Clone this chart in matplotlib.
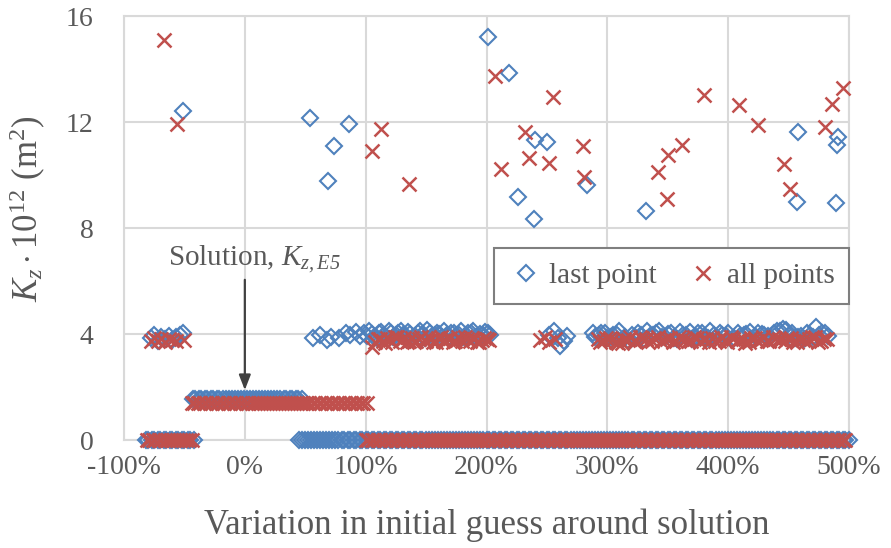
import matplotlib
matplotlib.use('Agg')
from matplotlib import pyplot as plt

plt.rcParams['font.family'] = ['Liberation Serif', 'DejaVu Serif']
plt.rcParams['mathtext.fontset'] = 'custom'
plt.rcParams['mathtext.rm'] = 'Liberation Serif'
plt.rcParams['mathtext.it'] = 'Liberation Serif:italic'
# 'cal' slot used for a fully italic subscript (digits included)
plt.rcParams['mathtext.cal'] = 'Liberation Serif:italic'

BLUE = '#4F81BD'
RED = '#C0504D'
GREY_TXT = '#595959'
GRID = '#D9D9D9'

# --- scattered high values (variation %, Kz*1e12) ---
high_last_x = [-51, 54, 86, 74, 69, 201, 219, 240, 250, 226, 239, 283, 332, 458, 457, 491, 490, 489]
high_last_y = [12.4, 12.14, 11.92, 11.1, 9.77, 15.2, 13.84, 11.32, 11.26, 9.16, 8.34, 9.62, 8.64,
               11.63, 8.97, 11.45, 11.13, 8.93]
high_all_x = [-67, -56, 113, 105, 136, 207, 212, 232, 235, 255, 252, 280, 281, 349, 342, 350, 362,
              380, 409, 425, 446, 451, 480, 486, 495]
high_all_y = [15.1, 11.92, 11.74, 10.92, 9.65, 13.74, 10.23, 11.63, 10.65, 12.96, 10.47, 11.1, 9.94,
              9.08, 10.13, 10.74, 11.13, 13.02, 12.64, 11.89, 10.4, 9.46, 11.82, 12.68, 13.3]

# --- band near 4 ---
band_last_x = [-78, -75, -72, -69, -66, -63, -60, -57, -54, -51,
               56, 62, 68, 71, 78, 84, 87, 92, 95, 99,
               103, 107, 111, 115, 119, 123, 127, 131, 135, 139,
               143, 147, 151, 155, 159, 163, 167, 171, 175, 179,
               183, 187, 191, 195, 199, 203,
               252, 256, 259, 261, 264, 267,
               288, 293, 298, 303, 308, 313, 318, 323, 328, 333,
               338, 343, 348, 353, 358, 363, 368, 373, 378, 383,
               388, 393, 398, 403, 408, 413, 418, 423, 428, 433,
               438, 443, 448, 453, 458, 463, 468, 473, 478, 483]
band_last_y = [3.85, 3.95, 3.75, 3.9, 3.8, 3.92, 3.78, 3.88, 3.95, 4.02,
               3.85, 3.95, 3.78, 3.9, 3.85, 4.02, 3.95, 4.08, 3.92, 4.05,
               4.1, 3.9, 4.05, 3.95, 4.12, 3.88, 4.02, 3.95, 4.08, 3.9,
               4.05, 3.98, 4.15, 3.92, 4.02, 3.88, 3.98, 4.05, 3.92, 4.1,
               3.95, 4.05, 3.88, 4.0, 4.08, 3.95,
               3.95, 4.1, 3.85, 3.55, 3.72, 3.92,
               4.02, 3.95, 4.05, 3.9, 3.98, 3.82, 3.75, 3.9, 3.95, 4.1,
               3.98, 4.12, 3.88, 4.05, 3.8, 3.95, 4.08, 3.9, 4.02, 3.85,
               3.98, 4.05, 3.92, 3.78, 4.02, 3.95, 4.08, 3.88, 4.0, 3.92,
               4.05, 4.1, 4.15, 4.02, 3.9, 3.8, 3.95, 4.25, 4.05, 3.92]
band_last_x2 = [101, 105, 109, 113, 117, 121, 125, 129, 133, 137, 141, 145, 149,
                153, 157, 161, 165, 169, 173, 177, 181, 185, 189, 193, 197, 201,
                290, 295, 300, 305, 310, 315, 320, 325, 330, 335,
                340, 345, 350, 355, 360, 365, 370, 375, 380, 385,
                390, 395, 400, 405, 410, 415, 420, 425, 430, 435,
                440, 445, 450, 455, 460, 465, 470, 475, 480]
band_last_y2 = [3.92, 4.0, 3.85, 4.08, 3.9, 4.02, 3.95, 4.12, 3.88, 4.0, 3.92, 4.1, 3.85,
                4.05, 3.95, 4.0, 4.1, 3.9, 4.02, 3.95, 3.88, 4.05, 4.1, 3.92, 3.98, 4.05,
                3.9, 4.05, 3.85, 3.98, 4.1, 3.88, 3.95, 4.02, 3.8, 3.92,
                4.05, 3.9, 4.0, 3.85, 4.08, 3.95, 3.82, 4.02, 3.9, 4.1,
                3.88, 3.95, 4.05, 3.85, 3.92, 4.0, 3.8, 4.05, 3.95, 3.9,
                4.12, 4.18, 3.98, 3.85, 3.92, 4.02, 3.88, 3.95, 4.05]
band_all_x = [-78, -75, -72, -69, -66, -63, -60, -57, -50,
              105, 110, 114, 118, 122, 126, 130, 134, 138, 142,
              146, 150, 154, 158, 162, 166, 170, 174, 178, 182,
              186, 190, 194, 198, 202,
              244, 248, 252, 257,
              292, 297, 302, 307, 312, 317, 322, 327, 332, 337,
              342, 347, 352, 357, 362, 367, 372, 377, 382, 387,
              392, 397, 402, 407, 412, 417, 422, 427, 432, 437,
              442, 447, 452, 457, 462, 467, 472, 477, 482]
band_all_y = [3.72, 3.85, 3.75, 3.8, 3.7, 3.82, 3.78, 3.72, 3.78,
              3.52, 3.8, 3.72, 3.85, 3.7, 3.9, 3.78, 3.68, 3.85, 3.75,
              3.88, 3.72, 3.82, 3.7, 3.9, 3.78, 3.85, 3.72, 3.8, 3.88,
              3.75, 3.82, 3.7, 3.85, 3.78,
              3.78, 3.88, 3.7, 3.82,
              3.82, 3.75, 3.85, 3.7, 3.65, 3.78, 3.72, 3.88, 3.8, 3.75,
              3.9, 3.78, 3.85, 3.72, 3.82, 3.75, 3.88, 3.7, 3.8, 3.85,
              3.72, 3.78, 3.9, 3.75, 3.82, 3.7, 3.85, 3.78, 3.72, 3.88,
              3.8, 3.75, 3.85, 3.7, 3.78, 3.82, 3.88, 3.72, 3.8]
band_all_x2 = [108, 112, 116, 120, 124, 128, 132, 136, 140, 144, 148, 152,
               156, 160, 164, 168, 172, 176, 180, 184, 188, 192, 196, 200,
               294, 299, 304, 309, 314, 319, 324, 329, 334, 339,
               344, 349, 354, 359, 364, 369, 374, 379, 384, 389,
               394, 399, 404, 409, 414, 419, 424, 429, 434, 439,
               444, 449, 454, 459, 464, 469, 474, 479]
band_all_y2 = [3.7, 3.82, 3.65, 3.78, 3.88, 3.72, 3.85, 3.75, 3.68, 3.82, 3.78, 3.9,
               3.7, 3.85, 3.75, 3.8, 3.68, 3.88, 3.72, 3.8, 3.85, 3.7, 3.78, 3.82,
               3.7, 3.85, 3.78, 3.65, 3.82, 3.9, 3.72, 3.8, 3.68, 3.85,
               3.75, 3.82, 3.7, 3.88, 3.78, 3.72, 3.85, 3.8, 3.68, 3.75,
               3.88, 3.7, 3.82, 3.78, 3.65, 3.85, 3.75, 3.9, 3.72, 3.8,
               3.78, 3.85, 3.7, 3.82, 3.75, 3.88, 3.7, 3.8]

# --- solution band ---
sol_last_x = [-43, -41, -38, -36, -33, -31, -28, -26, -23, -21, -18, -16, -13, -11, -8, -6, -3, -1,
              2, 4, 7, 9, 12, 14, 17, 19, 22, 24, 27, 29, 32, 34, 37, 39, 42, 44, 47]
sol_last_level = 1.55
sol_all_x = [-44, -42, -39, -37, -34, -32, -29, -27, -24, -22, -19, -17, -14, -12, -9, -7, -4, -2,
             1, 3, 6, 8, 11, 13, 16, 18, 21, 23, 26, 28, 31, 33, 36, 38, 41, 43, 46, 48,
             51, 53, 56, 58, 61, 63, 66, 68, 71, 73, 76, 78, 81, 83, 86, 88, 91, 93, 96, 98, 101]
sol_all_level = 1.38

# --- zero band ---
zero_last_x = [-82, -80, -77, -75, -72, -70, -67, -65, -62, -60, -57, -55, -52, -50, -47, -45, -42,
               45, 47, 50, 52, 55, 57, 60, 62, 65, 67, 70, 72, 75, 77, 80, 82, 85, 87, 90, 92,
               95, 97, 100, 102, 105, 107, 110, 112, 115, 117, 120, 122, 125, 127, 130, 132, 135, 137, 140, 142,
               145, 147, 150, 152, 155, 157, 160, 162, 165, 167, 170, 172, 175, 177, 180, 182, 185, 187, 190, 192,
               195, 197, 200, 202, 205, 207, 210, 212, 215, 217, 220, 222, 225, 227, 230, 232, 235, 237, 240, 242,
               245, 247, 250, 252, 255, 257, 260, 262, 265, 267, 270, 272, 275, 277, 280, 282, 285, 287, 290, 292,
               295, 297, 300, 302, 305, 307, 310, 312, 315, 317, 320, 322, 325, 327, 330, 332, 335, 337, 340, 342,
               345, 347, 350, 352, 355, 357, 360, 362, 365, 367, 370, 372, 375, 377, 380, 382, 385, 387, 390, 392,
               395, 397, 400, 402, 405, 407, 410, 412, 415, 417, 420, 422, 425, 427, 430, 432, 435, 437, 440, 442,
               445, 447, 450, 452, 455, 457, 460, 462, 465, 467, 470, 472, 475, 477, 480, 482, 485, 487, 490, 492,
               495, 497, 500]
zero_all_x = [-81, -79, -76, -74, -71, -69, -66, -64, -61, -59, -56, -54, -51, -49, -46, -44,
              100, 102, 105, 107, 110, 112, 115, 117, 120, 122, 125, 127, 130, 132, 135, 137, 140, 142, 145, 147,
              150, 152, 155, 157, 160, 162, 165, 167, 170, 172, 175, 177, 180, 182, 185, 187, 190, 192, 195, 197,
              200, 202, 205, 207, 210, 212, 215, 217, 220, 222, 225, 227, 230, 232, 235, 237, 240, 242, 245, 247,
              250, 252, 255, 257, 260, 262, 265, 267, 270, 272, 275, 277, 280, 282, 285, 287, 290, 292, 295, 297,
              300, 302, 305, 307, 310, 312, 315, 317, 320, 322, 325, 327, 330, 332, 335, 337, 340, 342, 345, 347,
              350, 352, 355, 357, 360, 362, 365, 367, 370, 372, 375, 377, 380, 382, 385, 387, 390, 392, 395, 397,
              400, 402, 405, 407, 410, 412, 415, 417, 420, 422, 425, 427, 430, 432, 435, 437, 440, 442, 445, 447,
              450, 452, 455, 457, 460, 462, 465, 467, 470, 472, 475, 477, 480, 482, 485, 487, 490, 492, 495, 497]
zero_level = 0

x_ticks = [-100, 0, 100, 200, 300, 400, 500]
y_ticks = [0, 4, 8, 12, 16]

last_x = zero_last_x + sol_last_x + band_last_x + band_last_x2 + high_last_x
last_y = ([zero_level] * len(zero_last_x) + [sol_last_level] * len(sol_last_x)
          + band_last_y + band_last_y2 + high_last_y)
all_x = zero_all_x + sol_all_x + band_all_x + band_all_x2 + high_all_x
all_y = ([zero_level] * len(zero_all_x) + [sol_all_level] * len(sol_all_x)
         + band_all_y + band_all_y2 + high_all_y)

fig = plt.figure(figsize=(8.91, 5.48), dpi=100)
ax = fig.add_axes([124 / 891, 108 / 548, 725 / 891, 424 / 548])

ax.plot(last_x, last_y, linestyle='none', marker='D', markersize=8, markerfacecolor='none',
        markeredgecolor=BLUE, markeredgewidth=1.5, clip_on=False, zorder=3, label='last point')
ax.plot(all_x, all_y, linestyle='none', marker='x', markersize=10, markeredgecolor=RED,
        markeredgewidth=1.8, clip_on=False, zorder=4, label='all points')

ax.set_xlim(-100, 500)
ax.set_ylim(0, 16)
ax.set_xticks(x_ticks)
ax.set_xticklabels([f'{t}%' for t in x_ticks])
ax.set_yticks(y_ticks)
ax.grid(True, color=GRID, linewidth=1.5)
ax.set_axisbelow(True)
for s in ax.spines.values():
    s.set_color(GRID)
    s.set_linewidth(1.5)
ax.tick_params(axis='both', length=0, labelsize=20, labelcolor=GREY_TXT)
ax.tick_params(axis='x', pad=11)
ax.tick_params(axis='y', pad=22)

ax.set_xlabel('Variation in initial guess around solution', fontsize=25, color=GREY_TXT, labelpad=20)
fig.text(28 / 891, 1 - 209 / 548, r'$K_z\cdot10^{12}$ (m$^2$)', rotation=90, ha='center', va='center',
         fontsize=25, color=GREY_TXT)

ax.annotate('', xy=(0, 1.78), xytext=(0, 6.15),
            arrowprops=dict(arrowstyle='-|>,head_width=0.35,head_length=0.9', color='#404040', lw=1.6))
ax.text(8, 6.6, r'Solution, $K_{\mathcal{z,E5}}$', ha='center', va='baseline', fontsize=21, color=GREY_TXT)

leg = ax.legend(loc='upper right', bbox_to_anchor=(1.0, 0.452), ncol=2, fontsize=21, frameon=True,
                fancybox=False, edgecolor='#7F7F7F', framealpha=1, handletextpad=0.2,
                columnspacing=1.0, borderpad=0.5, handlelength=1.2, borderaxespad=0)
leg.get_frame().set_linewidth(1.5)
for t in leg.get_texts():
    t.set_color(GREY_TXT)

plt.savefig('out.png', dpi=100)
plt.close()
